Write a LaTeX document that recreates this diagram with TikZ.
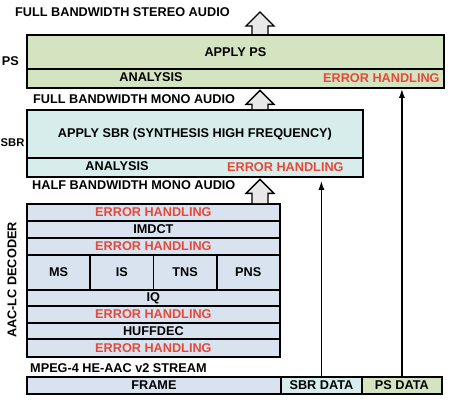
\documentclass[tikz,border=0pt]{standalone}
\usepackage{fontspec}
\setmainfont{Liberation Sans}
\usetikzlibrary{calc, arrows.meta}

\definecolor{psgreen}{HTML}{D4E4C1}
\definecolor{sbrcyan}{HTML}{D6EDEC}
\definecolor{aacblue}{HTML}{D9E3F0}
\definecolor{errred}{HTML}{E5493A}
\definecolor{arrowgray}{HTML}{E8E8E8}

\begin{document}
\begin{tikzpicture}[x=1pt, y=-1pt,
    txt/.style={font=\bfseries\fontsize{12.7}{12.7}\selectfont, inner sep=0pt},
    layer/.style={draw, line width=1.8pt, anchor=north west, inner sep=0pt, txt},
    err/.style={txt, text=errred},
    bigarrow/.style={draw, line width=1.4pt, fill=arrowgray, line join=miter},
    thinarrow/.style={line width=1.5pt, -{Latex[length=9pt,width=6pt]}}]

    % fix the page to the size of the reference
    \useasboundingbox (0,0) rectangle (450,404);

    % PS layer
    \node[txt, anchor=west] (stereotxt) at (15,12) {FULL BANDWIDTH STEREO AUDIO};
    \node[txt, anchor=east] (pslabel) at (19,61) {PS};
    \node[layer, fill=psgreen, minimum width=417, minimum height=34] (psapply) at (26,34) {APPLY PS};
    \node[layer, fill=psgreen, minimum width=417, minimum height=19] (psana) at (26,68) {};
    \node[txt] (psanatxt) at (151,77.5) {ANALYSIS};
    \node[err, anchor=east] (pserr) at ($(psana.east)+(-5,0)$) {ERROR HANDLING};

    % SBR layer
    \node[txt, anchor=west] (monotxt) at (33,99) {FULL BANDWIDTH MONO AUDIO};
    \node[txt, anchor=west, font=\bfseries\fontsize{11.2}{11.2}\selectfont] (sbrlabel) at (0.5,143) {SBR};
    \node[layer, fill=sbrcyan, minimum width=336, minimum height=48] (sbrapply) at (26,109) {APPLY SBR (SYNTHESIS HIGH FREQUENCY)};
    \node[layer, fill=sbrcyan, minimum width=336, minimum height=19] (sbrana) at (26,157) {};
    \node[txt] (sbranatxt) at (117,166.5) {ANALYSIS};
    \node[err, anchor=east] (sbrerr) at ($(sbrana.east)+(-20,0)$) {ERROR HANDLING};

    % AAC-LC decoder, one row after the other
    \node[txt, anchor=west] (halftxt) at (32,185) {HALF BANDWIDTH MONO AUDIO};
    \node[txt, rotate=90] (aaclabel) at (12,280) {AAC-LC DECODER};
    \foreach \top/\rowh/\lbl/\col [count=\i] in {203/17/ERROR HANDLING/errred, 220/17/IMDCT/black,
            237/17/ERROR HANDLING/errred, 254/35//black, 289/16/IQ/black,
            305/17/ERROR HANDLING/errred, 322/16/HUFFDEC/black, 338/18/ERROR HANDLING/errred}
        \node[layer, fill=aacblue, text=\col, minimum width=253, minimum height=\rowh] (aac\i) at (26,\top) {\lbl};
    \foreach \lbl [count=\i from 0] in {MS, IS, TNS, PNS}
        \node[layer, fill=aacblue, minimum width=63.25, minimum height=35] (tool\i) at (26+63.25*\i,254) {\lbl};

    % the stream
    \node[txt, anchor=west] (streamtxt) at (30,368) {MPEG-4 HE-AAC v2 STREAM};
    \node[layer, fill=aacblue, minimum width=254, minimum height=17] (frame) at (26,376) {FRAME};
    \node[layer, fill=sbrcyan, minimum width=81, minimum height=17] (sbrdata) at (280,376) {SBR DATA};
    \node[layer, fill=psgreen, minimum width=80, minimum height=17] (psdata) at (361,376) {PS DATA};

    % side data goes straight up to the analysis rows
    \draw[thinarrow, shorten >=3pt] (sbrdata.north) -- (sbrdata.north |- sbrana.south);
    \draw[thinarrow] (psdata.north) -- (psdata.north |- psana.south);

    % audio goes up through the layers
    \coordinate (stereo) at (260,10.5);
    \foreach \from/\to in {psapply/stereo, sbrapply/psana, aac1/sbrana} {
        \coordinate (b) at (\from.north -| stereo);
        \coordinate (t) at ($(\to.south -| stereo)+(0,1.5)$);
        \draw[bigarrow] ($(b)+(-8,0)$) -- ($(t)+(-8,14)$) -- ($(t)+(-14,14)$) -- (t)
            -- ($(t)+(14,14)$) -- ($(t)+(8,14)$) -- ($(b)+(8,0)$);
    }

\end{tikzpicture}
\end{document}
